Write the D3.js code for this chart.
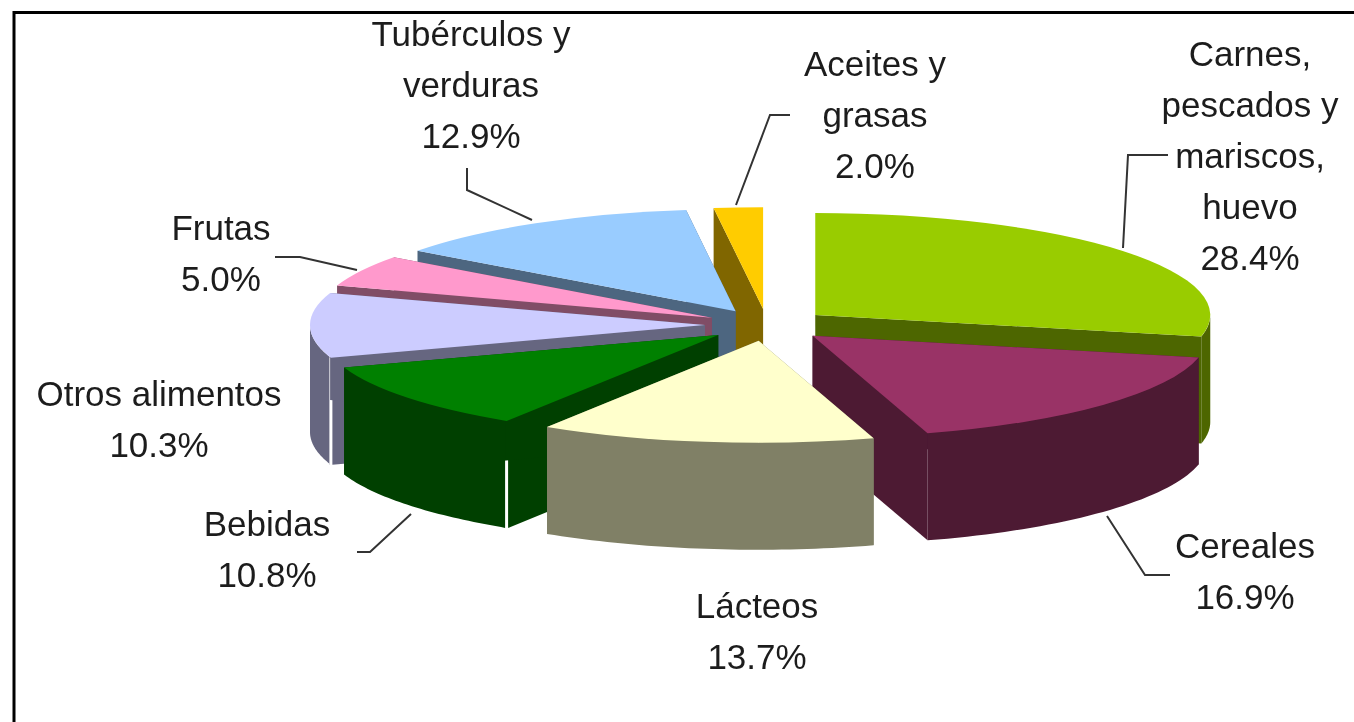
<!DOCTYPE html>
<html>
<head>
<meta charset="utf-8">
<script src="https://cdn.jsdelivr.net/npm/d3@7"></script>
<style>
  html, body { margin: 0; padding: 0; background: #fff; }
  svg { display: block; filter: blur(0.5px); }
  text { font-family: "Liberation Sans", Arial, sans-serif; font-size: 35px; fill: #1c1c1c; }
</style>
</head>
<body>
<div id="chart"></div>
<script>
// clockwise from 12 o'clock
const categories = [
  ["Carnes,", "pescados y", "mariscos,", "huevo"],
  ["Cereales"],
  ["Lácteos"],
  ["Bebidas"],
  ["Otros alimentos"],
  ["Frutas"],
  ["Tubérculos y", "verduras"],
  ["Aceites y", "grasas"]
];
const values = [28.4, 16.9, 13.7, 10.8, 10.3, 5.0, 12.9, 2.0];
const colors = ["#99cc00", "#993366", "#ffffcc", "#008000", "#ccccff", "#ff99cc", "#99ccff", "#ffcc00"];

// back to front
const drawOrder = [7, 6, 5, 4, 3, 0, 1, 2];

// ---------------------------------------------------------------------------
// layout
// ---------------------------------------------------------------------------
const width = 1354, height = 722;
const cx = 767, cy = 325;
const rx = 395, tilt = 0.258, depth = 107;
const explode = 62;
const seam = 1.5; // the thin gap next to the rim corner

const labelPos = [
  { x: 1250, y: 66 }, { x: 1245, y: 558 }, { x: 757, y: 618 }, { x: 267, y: 536 },
  { x: 159, y: 406 }, { x: 221, y: 240 }, { x: 471, y: 46 }, { x: 875, y: 76 }
];
const lineStep = 51;

const leaders = [
  [[1168, 155], [1128, 155], [1123, 248]],
  [[1170, 575], [1145, 575], [1107, 516]],
  null,
  [[357, 552], [370, 552], [411, 514]],
  null,
  [[275, 257], [300, 257], [357, 270]],
  [[467, 168], [467, 190], [532, 220]],
  [[790, 115], [770, 115], [736, 205]]
];

const svg = d3.select("#chart").append("svg")
  .attr("width", width)
  .attr("height", height);

// frame: no right or bottom side in the picture
svg.append("path")
  .attr("d", d3.line()([[14, height], [14, 12.5], [width, 12.5]]))
  .attr("fill", "none")
  .attr("stroke", "#000")
  .attr("stroke-width", 3);

const slices = d3.pie().sort(null)(values);

function wallColor(c) {
  const rgb = d3.rgb(c);
  return d3.rgb(rgb.r / 2, rgb.g / 2, rgb.b / 2).formatHex();
}

const topArc = d3.arc().innerRadius(0).outerRadius(rx);
const polygon = d3.line();

drawOrder.forEach(i => {
  const s = slices[i];
  const mid = (s.startAngle + s.endAngle) / 2;
  const ax = cx + explode * Math.sin(mid);
  const ay = cy - explode * tilt * Math.cos(mid);
  const rimX = a => ax + rx * Math.sin(a);
  const rimY = a => ay - rx * tilt * Math.cos(a);
  const g = svg.append("g").attr("class", "slice");
  const dark = wallColor(colors[i]);

  // a gap is only left where the start wall meets a visible outer wall
  const gap = (s.startAngle > Math.PI && s.startAngle < 1.5 * Math.PI) ? seam : 0;

  // radial walls
  [[s.startAngle, gap], [s.endAngle, 0]].forEach(([a, off]) => {
    g.append("path")
      .attr("d", polygon([
        [ax, ay],
        [rimX(a) + off, rimY(a)],
        [rimX(a) + off, rimY(a) + depth],
        [ax, ay + depth]
      ]) + "Z")
      .attr("fill", dark);
  });

  // outer wall, only the part facing the viewer
  const a0 = Math.max(s.startAngle, Math.PI / 2);
  const a1 = Math.min(s.endAngle, 1.5 * Math.PI);
  if (a1 > a0) {
    const steps = d3.range(0, 41).map(k => a0 + (a1 - a0) * k / 40);
    g.append("path")
      .attr("d", d3.area()
        .x(a => rimX(a) - (a === s.startAngle ? gap : 0))
        .y0(a => rimY(a))
        .y1(a => rimY(a) + depth)(steps))
      .attr("fill", dark);
  }

  // top face
  g.append("path")
    .attr("transform", `translate(${ax},${ay}) scale(1,${tilt})`)
    .attr("d", topArc(s))
    .attr("fill", colors[i]);
});

// leader lines
leaders.forEach(pts => {
  if (!pts) return;
  svg.append("path")
    .attr("d", d3.line()(pts))
    .attr("fill", "none")
    .attr("stroke", "#333")
    .attr("stroke-width", 2);
});

// labels
categories.forEach((lines, i) => {
  const rows = lines.concat(values[i].toFixed(1) + "%");
  svg.append("text")
    .attr("text-anchor", "middle")
    .selectAll("tspan")
    .data(rows)
    .join("tspan")
    .attr("x", labelPos[i].x)
    .attr("y", (d, k) => labelPos[i].y + k * lineStep)
    .text(d => d);
});
</script>
</body>
</html>
